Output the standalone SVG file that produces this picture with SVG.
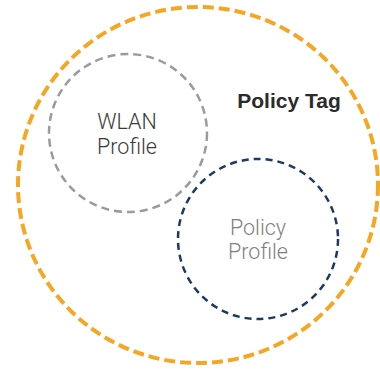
<svg xmlns="http://www.w3.org/2000/svg" width="380" height="371" viewBox="0 0 380 371">
<style>
.ring{fill:none;}
.lbl{font-family:"Roboto","Liberation Sans",sans-serif;font-weight:300;font-size:21.5px;text-anchor:middle;}
</style>
<rect width="380" height="371" fill="#ffffff"/>
<g id="policy-tag">
<ellipse class="ring" cx="198" cy="185" rx="180" ry="178" stroke="#f5a623" stroke-width="4" stroke-dasharray="11 5"/>
<text x="289" y="108" font-family="'Liberation Sans',Arial,sans-serif" font-weight="bold" font-size="21" text-anchor="middle" fill="#2b2b2b">Policy Tag</text>
</g>
<g id="wlan-profile">
<circle class="ring" cx="128" cy="133" r="79" stroke="#9b9b9b" stroke-width="2.5" stroke-dasharray="8 5"/>
<text class="lbl" x="127" y="129" fill="#3a3a3a">WLAN</text>
<text class="lbl" x="127" y="154" fill="#3a3a3a">Profile</text>
</g>
<g id="policy-profile">
<circle class="ring" cx="258" cy="239" r="80" stroke="#1d3a63" stroke-width="2.5" stroke-dasharray="7 5"/>
<text class="lbl" x="258" y="235" fill="#7f7f7f">Policy</text>
<text class="lbl" x="258" y="259" fill="#7f7f7f">Profile</text>
</g>
<g id="connectors"></g>
</svg>
